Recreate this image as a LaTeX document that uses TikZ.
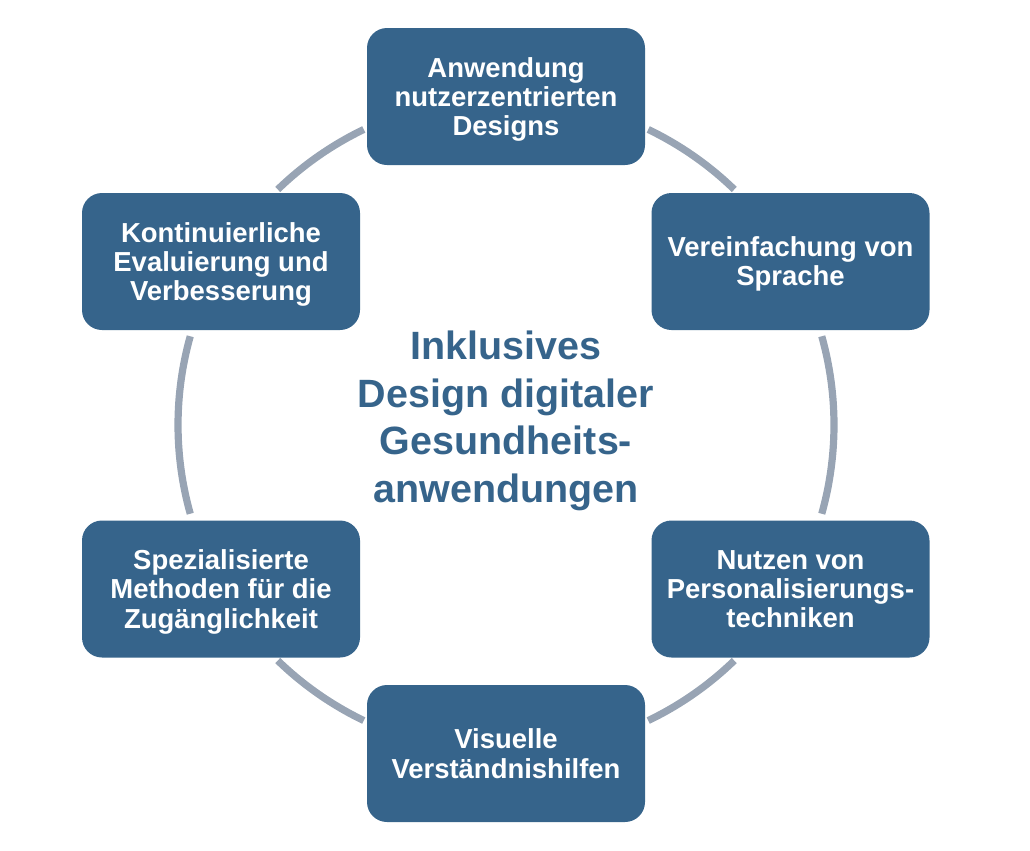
\documentclass[tikz,border=0pt]{standalone}
\usepackage{fontspec}
\setmainfont{Liberation Sans}
\usepackage{tikz}
\usetikzlibrary{positioning}

\definecolor{boxblue}{RGB}{54,100,139}
\definecolor{ringgray}{RGB}{152,164,180}

\begin{document}
\begin{tikzpicture}
	[x=0.75pt,y=-0.75pt,every node/.style={rounded corners=15pt,fill=boxblue,text=white,
	minimum width=208.5pt,minimum height=102.75pt,align=center,inner sep=0pt,text depth=0pt,
	font=\fontsize{20.6pt}{21.8pt}\selectfont\bfseries}]
	\useasboundingbox (0,0) rectangle (1030,850);
	\coordinate (ring) at (506,425);
	
	% ring segments between the boxes
	\foreach \a/\b in
	{-64.3/-45.9, -15.7/15.7, 45.9/64.3, 115.7/134.1, 164.3/195.7, 225.9/244.3}
	\draw[ringgray,line width=5.4pt] (ring) ++(\a:328) arc[start angle=\a,end angle=\b,radius=328];
	
	\node (n1) at (506,96.5) {Anwendung\\nutzerzentrierten\\Designs};
	\node (n2) at (790.5,261.5) {Vereinfachung von\\Sprache};
	\node (n3) at (790.5,589) {Nutzen von\\Personalisierungs-\\techniken};
	\node (n4) at (506,753.5) {Visuelle\\Verständnishilfen};
	\node (n5) at (221,589) {Spezialisierte\\Methoden für die\\Zugänglichkeit};
	\node (n6) at (221,261.5) {Kontinuierliche\\Evaluierung und\\Verbesserung};
	
	\node[style={fill=none,text=boxblue,text depth=,font=\fontsize{29.6pt}{35.6pt}\selectfont\bfseries}] (title) at (506,421)
	{Inklusives\\Design digitaler\\Gesundheits-\\anwendungen};
\end{tikzpicture}
\end{document}
